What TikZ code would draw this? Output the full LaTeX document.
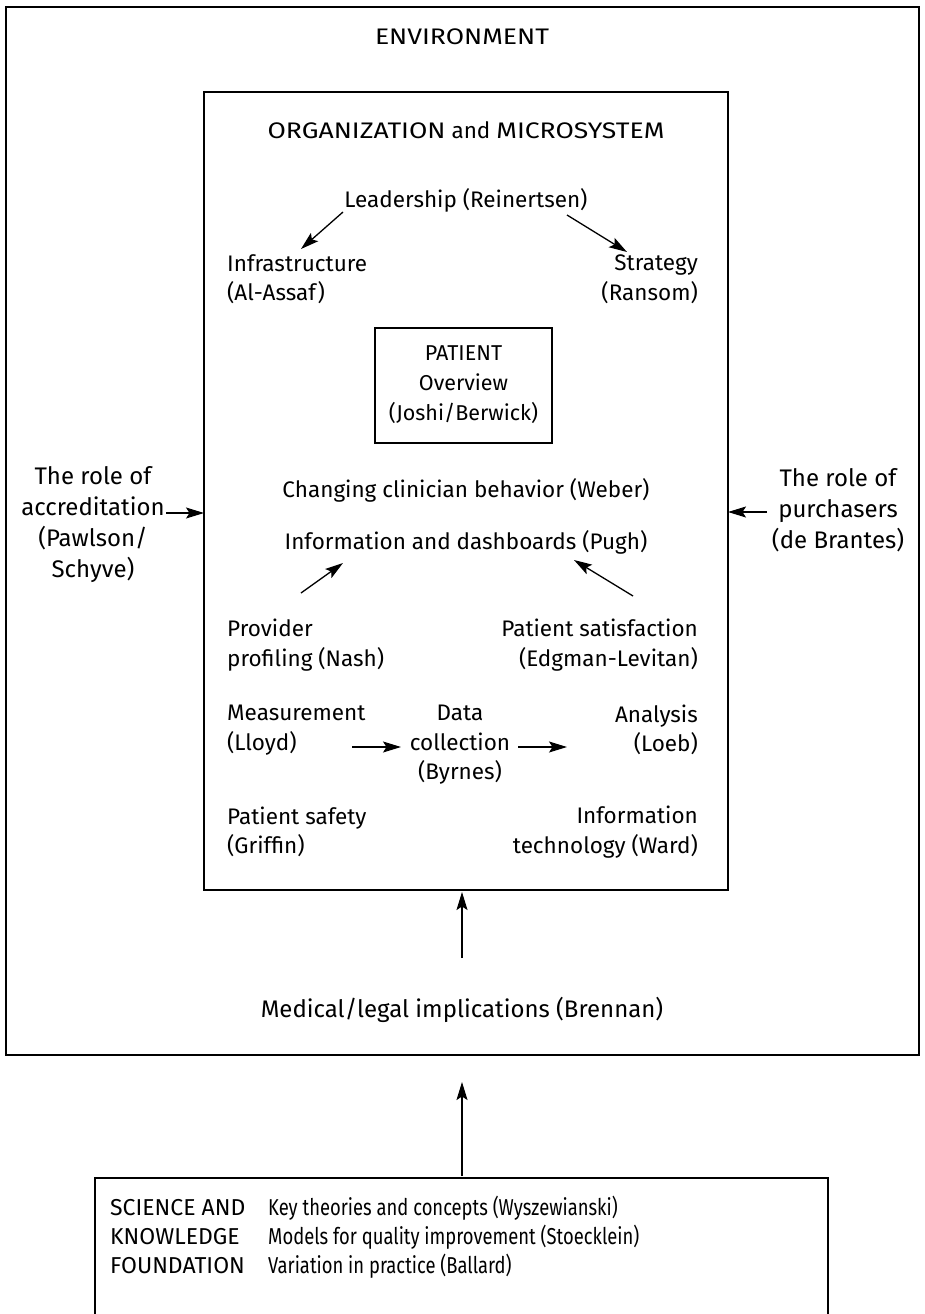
\documentclass[tikz,border=0pt]{standalone}
\usepackage{fontspec}
\setmainfont{Fira Sans}
\newfontfamily\condfont[FakeStretch=0.8]{Fira Sans}
\newfontfamily\widecaps[FakeStretch=1.18]{Fira Sans}
\usetikzlibrary{arrows.meta}
\tikzset{
  frame/.style={draw, line width=1.3pt},
  lbl/.style={inner sep=0pt, font=\fontsize{22.5}{29.5}\selectfont},
  side/.style={inner sep=0pt, align=center, font=\fontsize{24}{31}\selectfont},
  foot/.style={inner sep=0pt, anchor=west, align=left, font=\fontsize{23}{29}\selectfont},
  conn/.style={line width=1.3pt, -{Stealth[length=18pt, width=11pt, inset=3.5pt]}},
}
\begin{document}
\begin{tikzpicture}[x=1pt, y=-1pt]
\useasboundingbox (0,0) rectangle (925,1314);
\clip (0,0) rectangle (925,1314);

% environment, organization and patient frames
\draw[frame] (6,7) rectangle (919,1055);
\draw[frame] (204,92) rectangle (728,890);
\draw[frame] (375,328) rectangle (552,443);
\draw[frame] (95,1178) rectangle (828,1340);

% titles
\node[lbl] (env) at (462,37) {\widecaps ENVIRONMENT};
\node[lbl] (org) at (466,130) {{\widecaps ORGANIZATION} and {\widecaps MICROSYSTEM}};

% leadership triangle
\node[lbl] (lead) at (466,200) {Leadership (Reinertsen)};
\node[lbl, anchor=west, align=left] (infra) at (227,279) {Infrastructure\\(Al-Assaf)};
\node[lbl, anchor=east, align=right] (strat) at (698,279) {Strategy\\(Ransom)};
\coordinate (leadL) at (343,212);
\coordinate (infraT) at (301,249);
\coordinate (leadR) at (567,215);
\coordinate (stratT) at (627,252);
\draw[conn] (leadL) -- (infraT);
\draw[conn] (leadR) -- (stratT);

% patient
\node[lbl, align=center, font=\fontsize{21.5}{30}\selectfont] (pat) at (463.5,385) {PATIENT\\Overview\\(Joshi/Berwick)};

% external influences
\node[side] (accr) at (93,525) {The role of\\accreditation\\(Pawlson/\\Schyve)};
\node[side] (purch) at (838,510) {The role of\\purchasers\\(de Brantes)};
\coordinate (accrE) at (166,513);
\coordinate (orgW) at (204,513);
\coordinate (purchW) at (767,512);
\coordinate (orgE) at (728,512);
\draw[conn] (accrE) -- (orgW);
\draw[conn] (purchW) -- (orgE);

% clinician behaviour and information
\node[lbl] (clin) at (466,490) {Changing clinician behavior (Weber)};
\node[lbl] (dash) at (466,542) {Information and dashboards (Pugh)};
\node[lbl, anchor=west, align=left] (prov) at (227,645) {Provider\\profiling (Nash)};
\node[lbl, anchor=east, align=right] (satis) at (698,645) {Patient satisfaction\\(Edgman-Levitan)};
\coordinate (provT) at (301,593);
\coordinate (dashL) at (343,563);
\coordinate (satisT) at (633,596);
\coordinate (dashR) at (574,560);
\draw[conn] (provT) -- (dashL);
\draw[conn] (satisT) -- (dashR);

% measurement chain
\node[lbl, anchor=west, align=left] (meas) at (227,730) {Measurement\\(Lloyd)};
\node[lbl, align=center] (data) at (460,745) {Data\\collection\\(Byrnes)};
\node[lbl, anchor=east, align=right] (anal) at (698,730) {Analysis\\(Loeb)};
\coordinate (m1) at (352,747);
\coordinate (m2) at (401,747);
\coordinate (m3) at (518,747);
\coordinate (m4) at (567,747);
\draw[conn] (m1) -- (m2);
\draw[conn] (m3) -- (m4);

% bottom of the organization
\node[lbl, anchor=west, align=left] (safe) at (227,832) {Patient safety\\(Griffin)};
\node[lbl, anchor=east, align=right] (it) at (698,832) {Information\\technology (Ward)};

% medical/legal
\node[lbl, font=\fontsize{24}{30}\selectfont] (med) at (462,1010) {Medical/legal implications (Brennan)};
\coordinate (medT) at (462,958);
\coordinate (orgB) at (462,892);
\draw[conn] (medT) -- (orgB);

% science and knowledge foundation
\coordinate (sciT) at (462,1176);
\coordinate (envB) at (462,1082);
\draw[conn] (sciT) -- (envB);
\node[foot] (sci) at (110,1237) {SCIENCE AND\\KNOWLEDGE\\FOUNDATION};
\node[foot, font=\condfont\fontsize{23}{29}\selectfont] (topics) at (268,1237) {Key theories and concepts (Wyszewianski)\\Models for quality improvement (Stoecklein)\\Variation in practice (Ballard)};
\end{tikzpicture}
\end{document}
